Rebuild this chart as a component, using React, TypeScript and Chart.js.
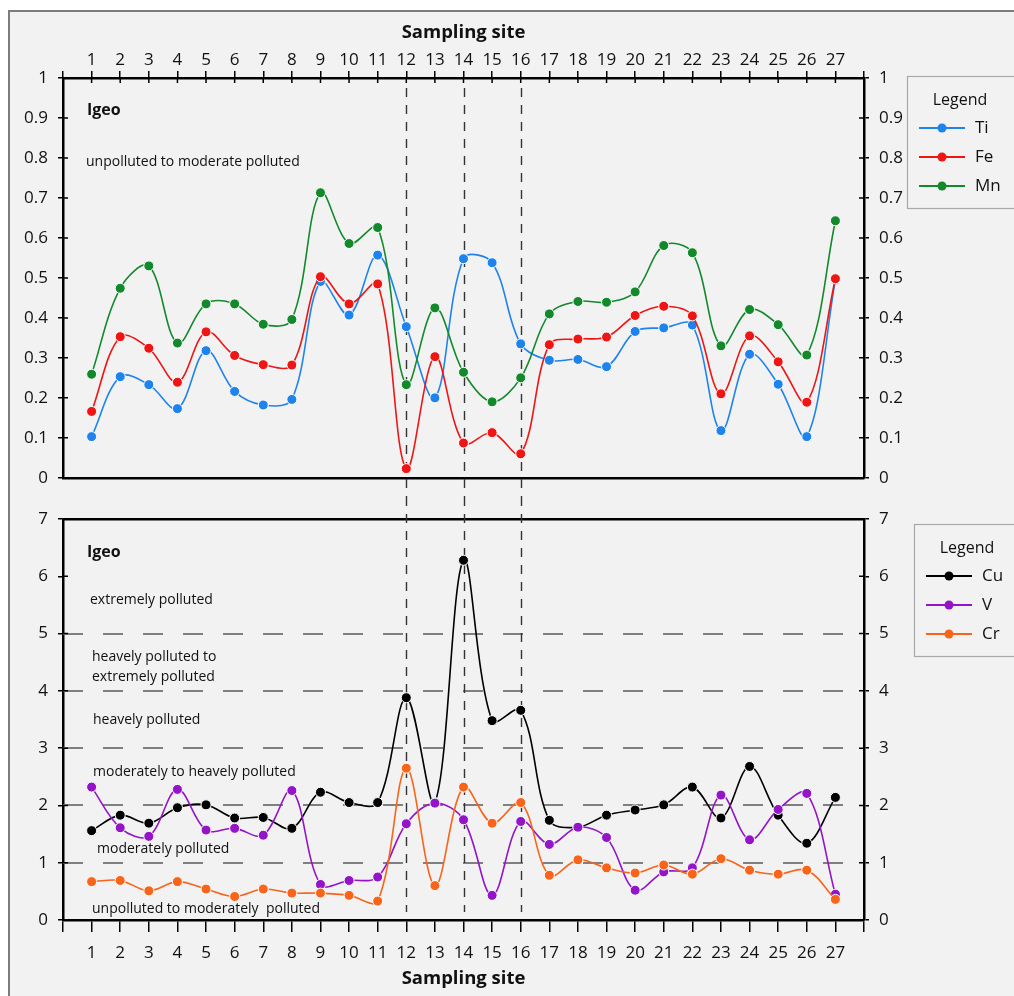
import React, { useEffect, useRef } from 'react';
import { Chart, registerables } from 'chart.js';

Chart.register(...registerables);

const FF = '"Open Sans", "DejaVu Sans", sans-serif';

// ---- data ----
const sites = [1, 2, 3, 4, 5, 6, 7, 8, 9, 10, 11, 12, 13, 14, 15, 16, 17, 18, 19, 20, 21, 22, 23, 24, 25, 26, 27];
const xTickValues = [0, 1, 2, 3, 4, 5, 6, 7, 8, 9, 10, 11, 12, 13, 14, 15, 16, 17, 18, 19, 20, 21, 22, 23, 24, 25, 26, 27, 28];
const topYTicks = [0, 0.1, 0.2, 0.3, 0.4, 0.5, 0.6, 0.7, 0.8, 0.9, 1];
const bottomYTicks = [0, 1, 2, 3, 4, 5, 6, 7];
const markedSites = [12, 14, 16];
const classBoundaries = [1, 2, 3, 4, 5];

const tiValues = [0.103, 0.253, 0.233, 0.173, 0.318, 0.216, 0.182, 0.196, 0.491, 0.407, 0.557, 0.378, 0.2, 0.548, 0.538, 0.335, 0.294, 0.296, 0.278, 0.366, 0.375, 0.382, 0.118, 0.309, 0.234, 0.103, 0.495];
const feValues = [0.166, 0.353, 0.324, 0.239, 0.365, 0.306, 0.283, 0.282, 0.503, 0.435, 0.485, 0.023, 0.303, 0.087, 0.113, 0.06, 0.333, 0.347, 0.352, 0.406, 0.429, 0.405, 0.21, 0.355, 0.29, 0.189, 0.498];
const mnValues = [0.259, 0.474, 0.53, 0.337, 0.435, 0.435, 0.384, 0.396, 0.713, 0.586, 0.626, 0.233, 0.425, 0.264, 0.19, 0.25, 0.41, 0.441, 0.439, 0.465, 0.581, 0.563, 0.33, 0.421, 0.383, 0.307, 0.643];

const cuValues = [1.56, 1.83, 1.69, 1.96, 2.01, 1.78, 1.79, 1.6, 2.23, 2.05, 2.05, 3.88, 2.05, 6.28, 3.48, 3.66, 1.74, 1.62, 1.83, 1.92, 2.01, 2.32, 1.78, 2.68, 1.83, 1.34, 2.14];
const vValues = [2.32, 1.61, 1.46, 2.28, 1.57, 1.6, 1.48, 2.26, 0.62, 0.69, 0.75, 1.68, 2.04, 1.75, 0.43, 1.72, 1.32, 1.62, 1.44, 0.52, 0.84, 0.91, 2.18, 1.4, 1.93, 2.21, 0.45];
const crValues = [0.67, 0.69, 0.51, 0.67, 0.54, 0.41, 0.54, 0.47, 0.47, 0.43, 0.33, 2.65, 0.6, 2.32, 1.69, 2.05, 0.78, 1.05, 0.91, 0.82, 0.96, 0.8, 1.07, 0.87, 0.8, 0.87, 0.36];

const topSeries = [
  { label: 'Ti', values: tiValues, color: '#1f83ee', order: 3 },
  { label: 'Fe', values: feValues, color: '#ee1515', order: 2 },
  { label: 'Mn', values: mnValues, color: '#13892c', order: 1 },
];
const bottomSeries = [
  { label: 'Cu', values: cuValues, color: '#000000', order: 3 },
  { label: 'V', values: vValues, color: '#9414c8', order: 2 },
  { label: 'Cr', values: crValues, color: '#f8641a', order: 1 },
];

const topNotes = [
  { text: 'Igeo', bold: true, x: 87, y: 110 },
  { text: 'unpolluted to moderate polluted', bold: false, x: 86, y: 162 },
];
const bottomNotes = [
  { text: 'Igeo', bold: true, x: 87, y: 54 },
  { text: 'extremely polluted', bold: false, x: 90, y: 102 },
  { text: 'heavely polluted to', bold: false, x: 92, y: 159 },
  { text: 'extremely polluted', bold: false, x: 92, y: 179 },
  { text: 'heavely polluted', bold: false, x: 93, y: 222 },
  { text: 'moderately to heavely polluted', bold: false, x: 93, y: 274 },
  { text: 'moderately polluted', bold: false, x: 97, y: 351 },
  { text: 'unpolluted to moderately  polluted', bold: false, x: 92, y: 411 },
];

function makeDatasets(series: typeof topSeries) {
  return series.map((s) => ({
    label: s.label,
    data: sites.map((site, i) => ({ x: site, y: s.values[i] })),
    borderColor: s.color,
    backgroundColor: s.color,
    pointBackgroundColor: s.color,
    pointBorderColor: '#ffffff',
    pointBorderWidth: 1,
    pointRadius: 5,
    pointHoverRadius: 5,
    borderWidth: 1.6,
    tension: 0.35,
    order: s.order,
  }));
}

function makeDecor(kind: 'top' | 'bottom', notes: typeof topNotes, legendBox: { x: number; y: number }) {
  return {
    id: 'decor-' + kind,
    beforeDatasetsDraw(chart: any) {
      const ctx = chart.ctx;
      const { left, right, top, bottom } = chart.chartArea;
      const xs = chart.scales.x;
      const ys = chart.scales.y;
      ctx.save();
      if (kind === 'bottom') {
        ctx.strokeStyle = '#7f7f7f';
        ctx.lineWidth = 2;
        ctx.setLineDash([20, 20]);
        for (const b of classBoundaries) {
          const py = Math.round(ys.getPixelForValue(b));
          ctx.beginPath();
          ctx.moveTo(left, py);
          ctx.lineTo(right - 18, py);
          ctx.stroke();
        }
      }
      ctx.strokeStyle = '#333333';
      ctx.lineWidth = 1.4;
      ctx.setLineDash([9, 8]);
      for (const s of markedSites) {
        const px = Math.round(xs.getPixelForValue(s)) + 0.5;
        ctx.beginPath();
        if (kind === 'top') {
          ctx.lineDashOffset = 0;
          ctx.moveTo(px, top + 10);
          ctx.lineTo(px, chart.height);
        } else {
          ctx.lineDashOffset = (chart.height - top) % 17;
          ctx.moveTo(px, 0);
          ctx.lineTo(px, bottom - 8);
        }
        ctx.stroke();
      }
      ctx.restore();
    },
    afterDraw(chart: any) {
      const ctx = chart.ctx;
      const { left, right, top } = chart.chartArea;
      const xs = chart.scales.x;
      const ys = chart.scales.y;
      ctx.save();
      // inward tick halves
      ctx.strokeStyle = '#000';
      ctx.lineWidth = 1.5;
      ctx.setLineDash([]);
      for (const t of ys.ticks) {
        const py = ys.getPixelForValue(t.value);
        ctx.beginPath();
        ctx.moveTo(left, py);
        ctx.lineTo(left + 5, py);
        ctx.moveTo(right - 5, py);
        ctx.lineTo(right, py);
        ctx.stroke();
      }
      if (kind === 'top') {
        for (const s of sites) {
          const px = xs.getPixelForValue(s);
          ctx.beginPath();
          ctx.moveTo(px, top);
          ctx.lineTo(px, top + 5);
          ctx.stroke();
        }
      }
      // notes
      ctx.fillStyle = '#111';
      ctx.textBaseline = 'middle';
      ctx.textAlign = 'left';
      for (const n of notes) {
        ctx.font = n.bold ? `bold 16px ${FF}` : `14px ${FF}`;
        ctx.fillText(n.text, n.x, n.y);
      }
      // legend
      const bx = legendBox.x;
      const by = legendBox.y;
      ctx.strokeStyle = '#a8a8a8';
      ctx.lineWidth = 1.2;
      ctx.strokeRect(bx + 0.5, by + 0.5, 130, 132);
      ctx.fillStyle = '#111';
      ctx.font = `16px ${FF}`;
      ctx.textAlign = 'center';
      ctx.fillText('Legend', bx + 53, by + 24);
      ctx.textAlign = 'left';
      chart.data.datasets.forEach((ds: any, i: number) => {
        const cy = by + 52 + i * 29;
        ctx.strokeStyle = ds.borderColor;
        ctx.lineWidth = 1.8;
        ctx.beginPath();
        ctx.moveTo(bx + 12, cy);
        ctx.lineTo(bx + 58, cy);
        ctx.stroke();
        ctx.fillStyle = ds.borderColor;
        ctx.beginPath();
        ctx.arc(bx + 35, cy, 4.5, 0, Math.PI * 2);
        ctx.fill();
        ctx.fillStyle = '#111';
        ctx.font = `17px ${FF}`;
        ctx.fillText(ds.label, bx + 68, cy);
      });
      ctx.restore();
    },
  };
}

function yScale(ticksArr: number[], pos: 'left' | 'right', max: number) {
  return {
    type: 'linear',
    position: pos,
    min: 0,
    max,
    afterBuildTicks: (s: any) => {
      s.ticks = ticksArr.map((v) => ({ value: v }));
    },
    afterFit: (s: any) => {
      s.width = pos === 'left' ? 63 : 150;
    },
    ticks: {
      callback: (v: any) => String(v),
      font: { family: FF, size: 17 },
      color: '#111',
      padding: 10,
    },
    grid: { drawOnChartArea: false, drawTicks: true, tickLength: 5, color: '#000', lineWidth: 1.5 },
    border: { display: true, color: '#000', width: 2.5 },
  };
}

function xScale(pos: 'top' | 'bottom', labelled: boolean, height: number, tickLength: number, padding: number, titlePad: any) {
  return {
    type: 'linear',
    position: pos,
    min: 0,
    max: 28,
    afterBuildTicks: (s: any) => {
      s.ticks = xTickValues.map((v) => ({ value: v }));
    },
    afterFit: (s: any) => {
      s.height = height;
    },
    ticks: {
      display: labelled,
      autoSkip: false,
      maxRotation: 0,
      callback: (v: any) => (sites.includes(v) ? String(v) : ''),
      font: { family: FF, size: 17 },
      color: '#111',
      padding,
    },
    grid: { display: labelled, drawOnChartArea: false, drawTicks: true, tickLength, color: '#000', lineWidth: 1.5 },
    border: { display: true, color: '#000', width: 2.5 },
    title: {
      display: labelled,
      text: 'Sampling site',
      font: { family: FF, size: 18.5, weight: 'bold' },
      color: '#111',
      padding: titlePad,
    },
  };
}

export default function App() {
  const topRef = useRef<HTMLCanvasElement>(null);
  const botRef = useRef<HTMLCanvasElement>(null);

  useEffect(() => {
    Chart.defaults.font.family = FF;
    const common = {
      animation: false as const,
      responsive: false,
      devicePixelRatio: 1,
      layout: { padding: 0 },
      plugins: { legend: { display: false }, tooltip: { enabled: false } },
      events: [] as any[],
    };
    const top = new Chart(topRef.current!, {
      type: 'line',
      data: { datasets: makeDatasets(topSeries) as any },
      options: {
        ...common,
        scales: {
          x: xScale('top', true, 78, 7, 1, { top: 22, bottom: 0 }),
          xb: xScale('bottom', false, 20, 0, 0, 0),
          y: yScale(topYTicks, 'left', 1),
          y2: yScale(topYTicks, 'right', 1),
        } as any,
      },
      plugins: [makeDecor('top', topNotes, { x: 907, y: 76 })],
    });
    const bot = new Chart(botRef.current!, {
      type: 'line',
      data: { datasets: makeDatasets(bottomSeries) as any },
      options: {
        ...common,
        scales: {
          x: xScale('bottom', true, 76, 12, 11, { top: 0, bottom: 6 }),
          xt: xScale('top', false, 21, 0, 0, 0),
          y: yScale(bottomYTicks, 'left', 7),
          y2: yScale(bottomYTicks, 'right', 7),
        } as any,
      },
      plugins: [makeDecor('bottom', bottomNotes, { x: 914, y: 26 })],
    });
    return () => {
      top.destroy();
      bot.destroy();
    };
  }, []);

  return (
    <div style={{ position: 'absolute', left: 0, top: 0, width: 1014, height: 996, overflow: 'hidden' }}>
      <div
        style={{
          position: 'absolute',
          left: 8,
          top: 10,
          width: 1014,
          height: 996,
          background: '#f2f2f2',
          borderLeft: '2px solid #7c7c7c',
          borderTop: '2px solid #7c7c7c',
        }}
      />
      <canvas ref={topRef} width={1014} height={498} style={{ position: 'absolute', left: 0, top: 0 }} />
      <canvas ref={botRef} width={1014} height={498} style={{ position: 'absolute', left: 0, top: 498 }} />
    </div>
  );
}
